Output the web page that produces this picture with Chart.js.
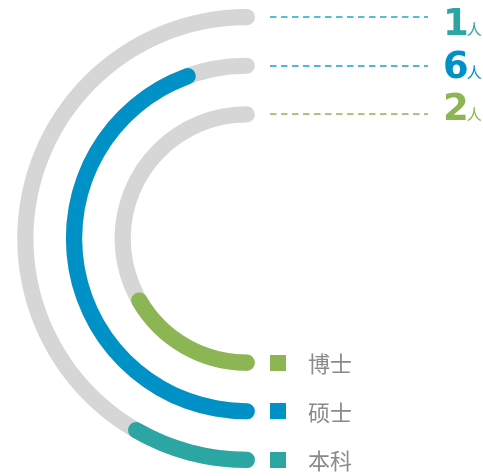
<!DOCTYPE html>
<html>
<head>
<meta charset="utf-8">
<script src="https://cdn.jsdelivr.net/npm/chart.js@4.4.0/dist/chart.umd.min.js"></script>
<style>
html, body { margin: 0; padding: 0; background: #fff; }
#wrap { position: relative; width: 483px; height: 476px; }
#wrap canvas { position: absolute; left: 0; top: 0; }
</style>
</head>
<body>
<div id="wrap">
  <canvas id="track" width="483" height="476"></canvas>
  <canvas id="arcs" width="483" height="476"></canvas>
</div>
<script>
// rings from outside to inside
const categories = ['本科', '硕士', '博士'];
const counts = [1, 6, 2];               // 人
const arcDegrees = [30, 160, 60];       // coloured part of each 180° track
const colors = ['#2ba6a3', '#0091c6', '#8cb553'];
const dashColors = ['#22a6cf', '#1a9fd0', '#8cb553'];
const trackColor = '#d6d6d6';

const outerR = 229.5;   // outer edge of outer ring
const innerR = 116;     // inner edge of inner ring
const unit = (outerR - innerR) / 7;   // ring weight 1, gap weight 2

// half of the stroke sticks out past each end (round caps)
function capDeg(i) {
    const mid = outerR - unit * (3 * i + 0.5);
    return (unit / 2) / mid * 180 / Math.PI;
}

function buildDatasets(kind) {
    const sets = [];
    categories.forEach((name, i) => {
        const d = capDeg(i);
        const ring = {
            label: name,
            rotation: 180 - d,
            circumference: 180 + 2 * d,
            borderRadius: unit / 2,
            borderWidth: 0,
            weight: 1
        };
        if (kind === 'track') {
            ring.data = [180];
            ring.backgroundColor = [trackColor];
        } else {
            ring.data = [arcDegrees[i] + 2 * d, 180 - arcDegrees[i]];
            ring.backgroundColor = [colors[i], 'rgba(0,0,0,0)'];
        }
        sets.push(ring);
        if (i < categories.length - 1) {
            sets.push({ data: [1], backgroundColor: ['rgba(0,0,0,0)'], borderWidth: 0, weight: 2 });
        }
    });
    return sets;
}

// dashed leaders, numbers and the legend
const labelPlugin = {
    id: 'labels',
    afterDraw(chart) {
        const ctx = chart.ctx;
        ctx.save();
        categories.forEach((name, i) => {
            const arc = chart.getDatasetMeta(2 * i).data[0];
            const mid = (arc.outerRadius + arc.innerRadius) / 2;
            const topY = Math.round(arc.y - mid);
            const botY = arc.y + mid;

            // dashed line
            ctx.strokeStyle = dashColors[i];
            ctx.lineWidth = 1.5;
            ctx.setLineDash([6.5, 4.5]);
            ctx.beginPath();
            ctx.moveTo(270, topY);
            ctx.lineTo(428, topY);
            ctx.stroke();
            ctx.setLineDash([]);

            // number + 人
            const baseY = 35 + 42.5 * i;
            ctx.fillStyle = colors[i];
            ctx.textBaseline = 'alphabetic';
            ctx.textAlign = 'left';
            ctx.font = 'bold 37px "DejaVu Sans"';
            const numText = String(counts[i]);
            ctx.fillText(numText, 443, baseY);
            const w = ctx.measureText(numText).width;
            ctx.font = '15px "Noto Sans CJK SC"';
            ctx.fillText('人', 443 + w - 2, baseY);

            // legend
            ctx.fillStyle = colors[i];
            ctx.fillRect(270, Math.round(botY - 8), 16, 16);
            ctx.fillStyle = '#8a8a8a';
            ctx.font = '22px "Noto Sans CJK SC"';
            ctx.textBaseline = 'middle';
            ctx.fillText(name, 308, botY + 1);
        });
        ctx.restore();
    }
};

function makeChart(id, kind) {
    return new Chart(document.getElementById(id), {
        type: 'doughnut',
        data: {
            labels: ['value', 'rest'],
            datasets: buildDatasets(kind)
        },
        options: {
            responsive: false,
            animation: false,
            events: [],
            radius: outerR,
            cutout: (innerR / outerR * 100) + '%',
            rotation: 180,
            circumference: 180,
            layout: { padding: { left: 0, right: 204, top: 1, bottom: 0 } },
            plugins: {
                legend: { display: false },
                tooltip: { enabled: false }
            }
        },
        plugins: kind === 'arcs' ? [labelPlugin] : []
    });
}

makeChart('track', 'track');
makeChart('arcs', 'arcs');
</script>
</body>
</html>
